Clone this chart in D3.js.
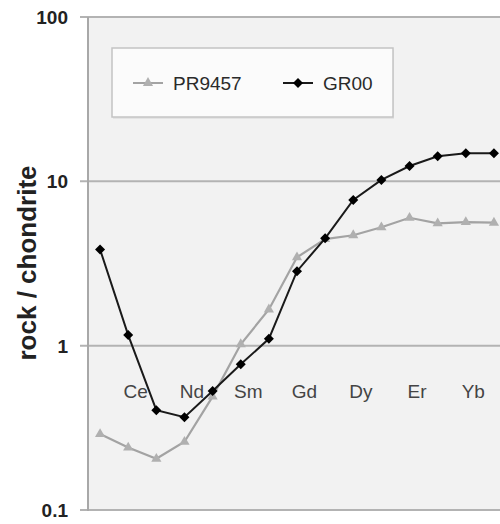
<!DOCTYPE html>
<html>
<head>
<meta charset="utf-8">
<script src="https://cdn.jsdelivr.net/npm/d3@7"></script>
<style>
  body { margin: 0; background: #fff; }
  text { font-family: "Liberation Sans", Arial, sans-serif; }
</style>
</head>
<body>
<div id="vis1"></div>
<script>
// REE, chondrite normalised
const elements = ["La", "Ce", "Pr", "Nd", "Pm", "Sm", "Eu", "Gd", "Tb", "Dy", "Ho", "Er", "Tm", "Yb", "Lu"];
const pr9457 = [0.29, 0.24, 0.205, 0.26, 0.49, 1.02, 1.66, 3.45, 4.45, 4.7, 5.25, 6.0, 5.55, 5.65, 5.6];
const gr00 = [3.85, 1.16, 0.405, 0.367, 0.53, 0.77, 1.1, 2.84, 4.5, 7.7, 10.2, 12.4, 14.2, 14.8, 14.8];
const yTicks = [0.1, 1, 10, 100];
const seriesNames = ["PR9457", "GR00"];

const FRAME_HEIGHT = 524;
const FRAME_WIDTH = 500;
const PLOT = {left: 86, right: 508, top: 17, bottom: 510};

const FRAME1 = d3.select("#vis1")
                  .append("svg")
                    .attr("height", FRAME_HEIGHT)
                    .attr("width", FRAME_WIDTH);

const X_SCALE = d3.scalePoint()
                    .domain(elements)
                    .range([PLOT.left, PLOT.right])
                    .padding(0.5);

const Y_SCALE = d3.scaleLog()
                    .domain([0.1, 100])
                    .range([PLOT.bottom, PLOT.top]);

// plot area
FRAME1.append("rect")
        .attr("x", PLOT.left + 2)
        .attr("y", PLOT.top)
        .attr("width", PLOT.right - PLOT.left)
        .attr("height", PLOT.bottom - PLOT.top)
        .attr("fill", "#f2f2f2");

// gridlines + y ticks
FRAME1.selectAll(".grid")
        .data(yTicks)
        .enter()
        .append("line")
          .attr("x1", PLOT.left - 6)
          .attr("x2", FRAME_WIDTH)
          .attr("y1", (d) => Y_SCALE(d))
          .attr("y2", (d) => Y_SCALE(d))
          .attr("stroke", "#b3b3b3")
          .attr("stroke-width", 2);

FRAME1.append("line")
        .attr("x1", PLOT.left + 2).attr("x2", PLOT.left + 2)
        .attr("y1", PLOT.top).attr("y2", PLOT.bottom + 1)
        .attr("stroke", "#a8a8a8")
        .attr("stroke-width", 2);

FRAME1.selectAll(".ylab")
        .data(yTicks)
        .enter()
        .append("text")
          .attr("x", 68)
          .attr("y", (d) => Y_SCALE(d))
          .attr("dy", "0.36em")
          .attr("text-anchor", "end")
          .attr("font-size", "19px")
          .attr("font-weight", "bold")
          .attr("fill", "#222")
          .text((d) => d3.format("~g")(d));

FRAME1.append("text")
        .attr("transform", "translate(36,263) rotate(-90)")
        .attr("text-anchor", "middle")
        .attr("font-size", "26px")
        .attr("font-weight", "bold")
        .attr("fill", "#222")
        .text("rock / chondrite");

// category axis crosses at 1
const xAxis = FRAME1.append("g")
        .attr("transform", "translate(0," + Y_SCALE(1) + ")")
        .call(d3.axisBottom(X_SCALE)
                .tickValues(elements.filter((d, i) => i % 2 == 1))
                .tickSize(0)
                .tickPadding(39));
xAxis.select(".domain").remove();
xAxis.selectAll("text")
        .attr("dx", 7)
        .attr("font-size", "19px")
        .attr("font-family", "Liberation Sans, Arial, sans-serif")
        .attr("fill", "#444");

// series
const LINE = d3.line()
                .x((d, i) => X_SCALE(elements[i]))
                .y((d) => Y_SCALE(d));

FRAME1.append("path")
        .datum(pr9457)
        .attr("d", LINE)
        .attr("fill", "none")
        .attr("stroke", "#a3a3a3")
        .attr("stroke-width", 2.2);

FRAME1.selectAll(".tri")
        .data(pr9457)
        .enter()
        .append("path")
          .attr("d", d3.symbol().type(d3.symbolTriangle).size(45))
          .attr("transform", (d, i) => "translate(" + X_SCALE(elements[i]) + "," + Y_SCALE(d) + ")")
          .attr("fill", "#b0b0b0");

FRAME1.append("path")
        .datum(gr00)
        .attr("d", LINE)
        .attr("fill", "none")
        .attr("stroke", "#1a1a1a")
        .attr("stroke-width", 2);

FRAME1.selectAll(".dia")
        .data(gr00)
        .enter()
        .append("path")
          .attr("d", d3.symbol().type(d3.symbolSquare).size(50))
          .attr("transform", (d, i) => "translate(" + X_SCALE(elements[i]) + "," + Y_SCALE(d) + ") rotate(45)")
          .attr("fill", "#000");

// legend
FRAME1.append("rect")
        .attr("x", 113).attr("y", 50)
        .attr("width", 281).attr("height", 69)
        .attr("fill", "#e4e4e4");
FRAME1.append("rect")
        .attr("x", 112).attr("y", 48)
        .attr("width", 281).attr("height", 69)
        .attr("fill", "#fbfbfb")
        .attr("stroke", "#c4c4c4")
        .attr("stroke-width", 1.5);

const LEG_X = [133, 283];
const LEG_Y = 83;
const legend = FRAME1.selectAll(".leg")
        .data(seriesNames)
        .enter()
        .append("g")
          .attr("transform", (d, i) => "translate(" + LEG_X[i] + "," + LEG_Y + ")");

legend.append("line")
        .attr("x1", 0).attr("x2", 30)
        .attr("stroke", (d, i) => i == 0 ? "#a3a3a3" : "#1a1a1a")
        .attr("stroke-width", 2);
legend.append("path")
        .attr("d", (d, i) => d3.symbol().type(i == 0 ? d3.symbolTriangle : d3.symbolSquare).size(i == 0 ? 45 : 50)())
        .attr("transform", (d, i) => "translate(15,0)" + (i == 1 ? " rotate(45)" : ""))
        .attr("fill", (d, i) => i == 0 ? "#b0b0b0" : "#000");
legend.append("text")
        .attr("x", 40)
        .attr("dy", "0.36em")
        .attr("font-size", "19px")
        .attr("fill", "#2a2a2a")
        .text((d) => d);
</script>
</body>
</html>
